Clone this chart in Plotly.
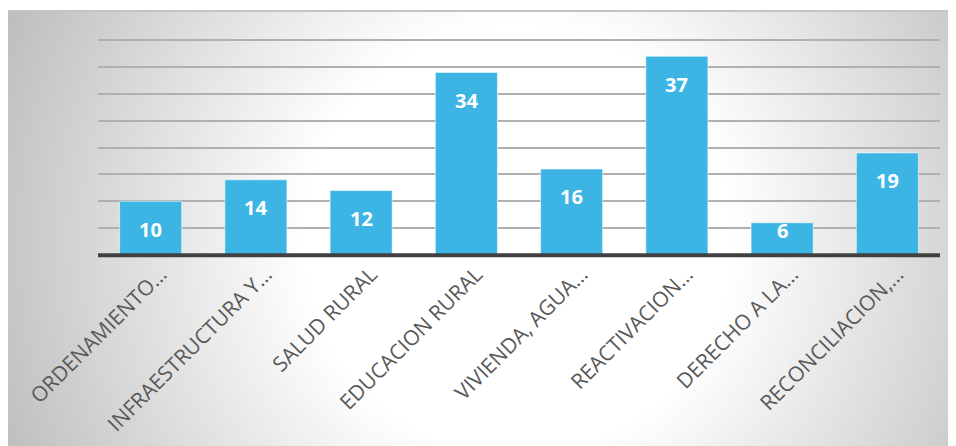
import base64
import plotly.graph_objects as go

categories = ["ORDENAMIENTO…", "INFRAESTRUCTURA Y…", "SALUD RURAL", "EDUCACION RURAL",
              "VIVIENDA, AGUA…", "REACTIVACION…", "DERECHO A LA…", "RECONCILIACION,…"]
values = [10, 14, 12, 34, 16, 37, 6, 19]

W, H = 956, 446
# plot area in pixels (baseline at 255, value 40 at y=40)
L, R, B = 98, 940, 255
ymax = 40.4
k = (B - 40) / 40.0
T = B - round(ymax * k)

# radial grey background box drawn as svg image
svg = """<svg xmlns='http://www.w3.org/2000/svg' width='940' height='436' viewBox='0 0 940 436' preserveAspectRatio='none'>
<defs><radialGradient id='g' gradientUnits='userSpaceOnUse' cx='510' cy='230' r='560'>
<stop offset='0' stop-color='#ffffff'/><stop offset='0.38' stop-color='#ffffff'/>
<stop offset='1' stop-color='#bdbdbd'/></radialGradient></defs>
<rect x='0' y='0' width='940' height='436' fill='url(#g)'/>
<rect x='0' y='0' width='940' height='2' fill='#c4c4c4'/>
</svg>"""
src = "data:image/svg+xml;base64," + base64.b64encode(svg.encode()).decode()
bx0, by0, bw, bh = 8, 10, 940, 436
pw, ph = R - L, B - T

fig = go.Figure(go.Bar(
    x=categories, y=values, width=0.59,
    marker=dict(color="#3cb5e5", line=dict(color="rgba(255,255,255,0.55)", width=1)),
    hoverinfo="x+y",
))

for c, v in zip(categories, values):
    fig.add_annotation(x=c, y=max(v - 5.2, 4.6), text=f"<b>{v}</b>", showarrow=False,
                       font=dict(family="Open Sans", size=20, color="white"))

fig.add_layout_image(dict(
    source=src, xref="paper", yref="paper",
    x=(bx0 - L) / pw, y=(B - by0) / ph, sizex=bw / pw, sizey=bh / ph,
    xanchor="left", yanchor="top", sizing="stretch", layer="below",
))

# dark baseline (paper ref so it is not clipped at the plot edge)
fig.add_shape(type="line", xref="paper", yref="paper", x0=0, x1=1, y0=-0.3 / ph, y1=-0.3 / ph,
              line=dict(color="#404040", width=4), layer="above")

fig.update_layout(
    width=W, height=H,
    margin=dict(l=L, r=W - R, t=T, b=H - B, pad=0),
    paper_bgcolor="white", plot_bgcolor="rgba(0,0,0,0)",
    showlegend=False, bargap=0.41,
    font=dict(family="Open Sans", color="#595959"),
    xaxis=dict(tickangle=-45, tickfont=dict(size=21, color="#595959"), automargin=False,
               showline=False, ticks="", ticklabelshift=10, ticklabelstandoff=2,
               showgrid=False, zeroline=False),
    yaxis=dict(range=[0, ymax], dtick=5, showticklabels=False, showgrid=True, automargin=False,
               gridcolor="#b0b0b0", gridwidth=2, zeroline=False, showline=False),
)

fig.write_html("out.html", config={"displayModeBar": False},
               post_script="document.body.style.margin='0';document.body.style.overflow='hidden';")
